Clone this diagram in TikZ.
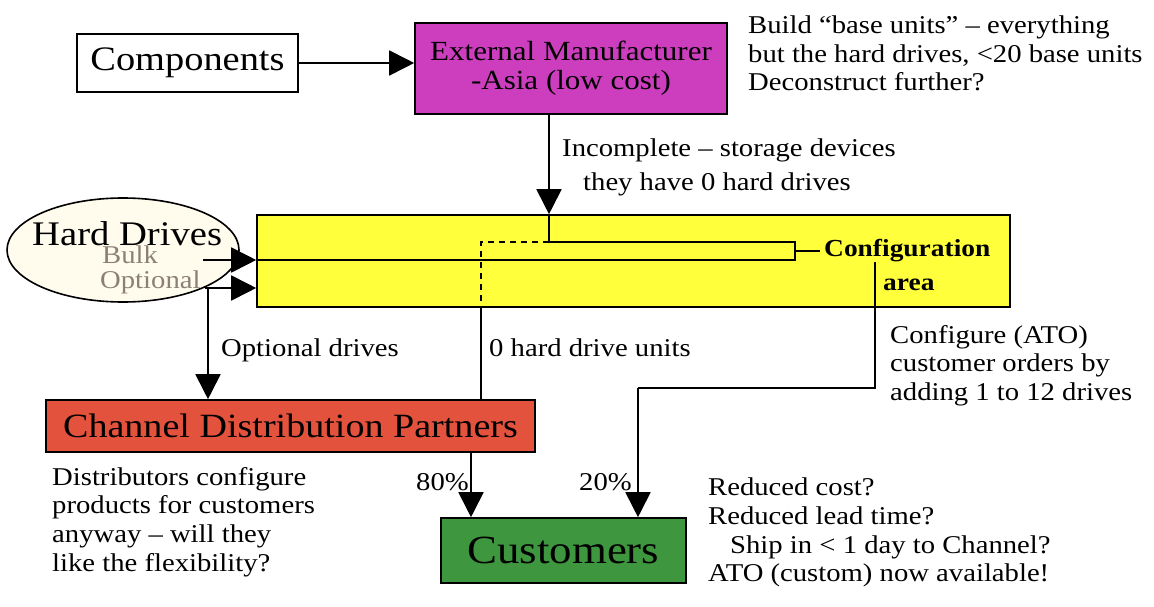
\documentclass[tikz,border=0pt]{standalone}
\usepackage{fontspec}
\setmainfont{Liberation Serif}[FakeStretch=1.12]
\usetikzlibrary{arrows.meta,shapes.geometric}
\definecolor{mfrmag}{RGB}{204,62,190}
\definecolor{cfgyel}{RGB}{255,255,60}
\definecolor{chanred}{RGB}{226,82,60}
\definecolor{custgrn}{RGB}{62,150,62}
\definecolor{hdcream}{RGB}{255,252,238}
\definecolor{hdgray}{RGB}{140,128,118}
\newcommand{\bodyfont}{\fontsize{25.6}{28.6}\selectfont}
\tikzset{
  box/.style={draw, line width=1.6pt, inner sep=0pt, align=center},
  conn/.style={line width=1.8pt},
  arr/.style={conn, -{Triangle[length=25pt,width=25pt]}},
  note/.style={inner sep=0pt, anchor=north west, align=left, font=\bodyfont},
}
\begin{document}
\begin{tikzpicture}[x=1pt,y=-1pt]
\useasboundingbox[fill=white] (0,0) rectangle (1154,607);

% boxes
\node[box, minimum width=221pt, minimum height=58pt, font=\fontsize{34.3}{36}\selectfont] (comp) at (187.5,63) {Components};
\node[box, fill=mfrmag, minimum width=312pt, minimum height=91pt, font=\fontsize{27.7}{29}\selectfont] (mfr) at (571,68.5) {External Manufacturer\\-Asia (low cost)};
\node[box, fill=cfgyel, minimum width=753pt, minimum height=92pt] (cfg) at (633.5,261) {};
\node[box, fill=chanred, minimum width=489pt, minimum height=52pt, font=\fontsize{34}{36}\selectfont] (chan) at (290.5,426) {Channel Distribution Partners};
\node[box, fill=custgrn, minimum width=245pt, minimum height=65pt, font=\fontsize{40}{42}\selectfont] (cust) at (563.5,550.5) {Customers};
\node[ellipse, draw, line width=1.6pt, fill=hdcream, minimum width=232pt, minimum height=104pt, inner sep=0pt] (hd) at (123,250) {};

% texts inside the ellipse
\node[anchor=base west, inner sep=0pt, font=\fontsize{34.5}{36}\selectfont] (hdtitle) at (32,245) {Hard Drives};
\node[anchor=base west, inner sep=0pt, font=\bodyfont, text=hdgray] (hdbulk) at (102,263) {Bulk};
\node[anchor=base west, inner sep=0pt, font=\bodyfont, text=hdgray] (hdopt) at (100,288) {Optional};

% routing points
\coordinate (bulkA) at (203,260);
\coordinate (optA) at (205,288);
\coordinate (optB) at (208,288);
\coordinate (loopR1) at (795,260);
\coordinate (loopR2) at (795,242);
\coordinate (loopT) at (549,242);
\coordinate (dashC) at (481,242);
\coordinate (cfgOutA) at (795,251);
\coordinate (cfgOutB) at (820,251);
\coordinate (ordTop) at (875,262);
\coordinate (ordCorner) at (875,388);
\coordinate (ordTurn) at (638,388);

% connectors
\draw[arr] (comp.east) -- (mfr.west |- comp.east);
\draw[arr] (mfr.south -| loopT) -- (cfg.north -| loopT);
\draw[arr] (bulkA) -- (cfg.west |- bulkA);
\draw[arr] (optA) -- (cfg.west |- optA);
\draw[arr] (optB) -- (chan.north -| optB);
\draw[conn] (cfg.west |- bulkA) -- (loopR1) -- (loopR2) -- (loopT) -- (cfg.north -| loopT);
\draw[conn, dash pattern=on 6pt off 5pt] (loopT) -- (dashC) -- (cfg.south -| dashC);
\draw[conn] (cfg.south -| dashC) -- (chan.north -| dashC);
\draw[conn] (cfgOutA) -- (cfgOutB);
\draw[conn] (ordTop) -- (ordCorner) -- (ordTurn);
\draw[arr] (ordTurn) -- (cust.north -| ordTurn);
\draw[arr] (chan.south -| 471,0) -- (cust.north -| 471,0);

% labels inside the configuration area
\node[anchor=base west, inner sep=0pt, font=\fontsize{24.5}{26}\selectfont\bfseries] (cfgname) at (824,256) {Configuration};
\node[anchor=base west, inner sep=0pt, font=\fontsize{24.5}{26}\selectfont\bfseries] (cfgarea) at (883,290) {area};

% annotations
\node[note] (build) at (748,15.5) {Build “base units” – everything\\but the hard drives, <20 base units\\Deconstruct further?};
\node[anchor=base west, inner sep=0pt, font=\bodyfont] (inc1) at (562,157) {Incomplete – storage devices};
\node[anchor=base west, inner sep=0pt, font=\bodyfont] (inc2) at (583,190) {they have 0 hard drives};
\node[anchor=base west, inner sep=0pt, font=\bodyfont] (optlbl) at (221,356) {Optional drives};
\node[anchor=base west, inner sep=0pt, font=\bodyfont] (zerolbl) at (489,356) {0 hard drive units};
\node[note] (ato) at (890,325) {Configure (ATO)\\customer orders by\\adding 1 to 12 drives};
\node[anchor=base west, inner sep=0pt, font=\bodyfont] (p80) at (416,490) {80\%};
\node[anchor=base west, inner sep=0pt, font=\bodyfont] (p20) at (579,490) {20\%};
\node[note] (dist) at (52,467) {Distributors configure\\products for customers\\anyway – will they\\like the flexibility?};
\node[note] (gain) at (708,478) {Reduced cost?\\Reduced lead time?\\\hspace*{22pt}Ship in < 1 day to Channel?\\ATO (custom) now available!};
\end{tikzpicture}
\end{document}
